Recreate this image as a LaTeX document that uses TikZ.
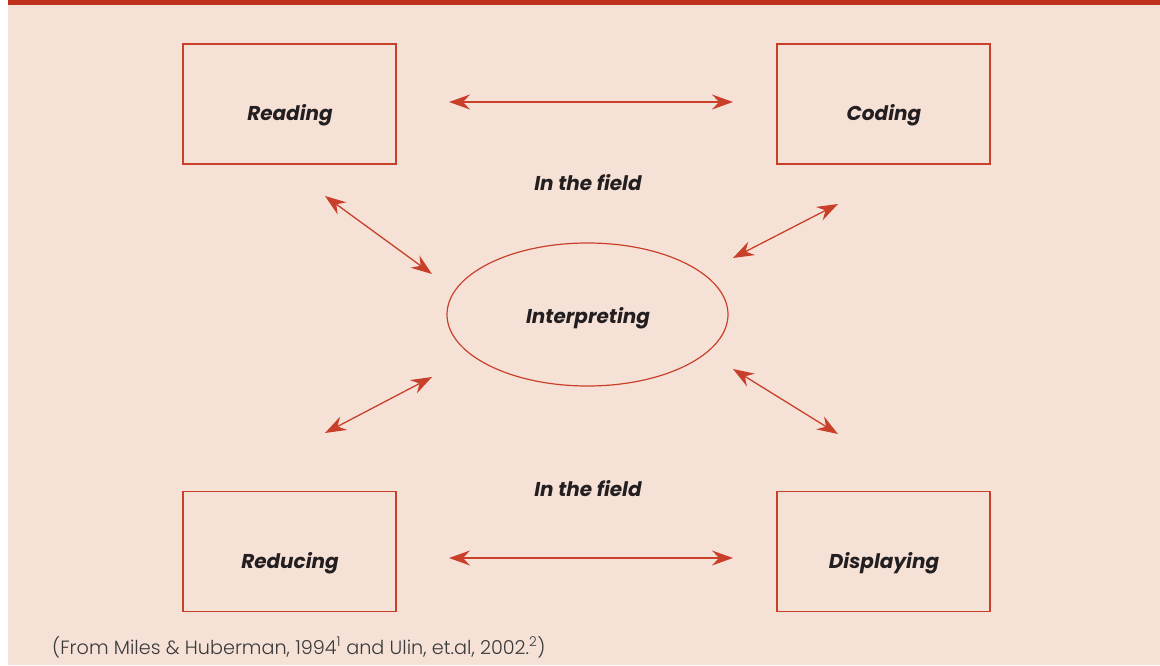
\documentclass[tikz,border=0pt]{standalone}
\usepackage{fontspec}
\setmainfont{Poppins}
\newfontfamily\capfont{Poppins Light}
\usetikzlibrary{arrows.meta,shapes.geometric}
\definecolor{bgpeach}{HTML}{F6E1D7}
\definecolor{barred}{HTML}{C0311C}
\definecolor{linered}{HTML}{C8402A}
\definecolor{inkdark}{HTML}{231F20}
\definecolor{capgray}{HTML}{3A3A3A}
\tikzset{
  boxnode/.style={draw=linered, line width=1.2pt, minimum width=213pt, minimum height=120pt, inner sep=0pt},
  ellnode/.style={draw=linered, line width=1.2pt, ellipse, minimum width=281pt, minimum height=143pt, inner sep=0pt},
  lbl/.style={anchor=base, inner sep=0pt, font=\fontsize{20}{22}\selectfont\bfseries\itshape, text=inkdark},
  dblarrow/.style={draw=linered, line width=1.3pt, {Stealth[length=21pt,width=15pt,inset=7pt]}-{Stealth[length=21pt,width=15pt,inset=7pt]}},
}
\begin{document}
\begin{tikzpicture}[x=1pt,y=-1pt]
\useasboundingbox (0,0) rectangle (1160,666);
\fill[white] (0,0) rectangle (1160,666);
\fill[bgpeach] (8,0) rectangle (1160,665);
\fill[barred] (8,0) rectangle (1160,5);
\node[boxnode] (reading) at (289.5,104) {};
\node[boxnode] (coding) at (883.5,104) {};
\node[boxnode] (reducing) at (289.5,551.5) {};
\node[boxnode] (displaying) at (883.5,551.5) {};
\node[ellnode] (interp) at (587.5,314.5) {};
\node[lbl] (readingtxt) at (290,121) {Reading};
\node[lbl] (codingtxt) at (884,121) {Coding};
\node[lbl] (reducingtxt) at (290,568) {Reducing};
\node[lbl] (displayingtxt) at (884,568) {Displaying};
\node[lbl] (interptxt) at (588,323) {Interpreting};
\node[lbl] (field1) at (588,190) {In the field};
\node[lbl] (field2) at (588,496) {In the field};
\coordinate (t1) at (449,102);
\coordinate (t2) at (733,102);
\coordinate (b1) at (449,558);
\coordinate (b2) at (733,558);
\coordinate (ul1) at (325,196);
\coordinate (ul2) at (432,274);
\coordinate (ur1) at (838,204);
\coordinate (ur2) at (733,258);
\coordinate (ll1) at (325,433);
\coordinate (ll2) at (432,377);
\coordinate (lr1) at (838,434);
\coordinate (lr2) at (733,369);
\draw[dblarrow] (t1) -- (t2);
\draw[dblarrow] (b1) -- (b2);
\draw[dblarrow] (ul1) -- (ul2);
\draw[dblarrow] (ur1) -- (ur2);
\draw[dblarrow] (ll1) -- (ll2);
\draw[dblarrow] (lr1) -- (lr2);
\node[anchor=base west, inner sep=0pt, text=capgray, font=\capfont\fontsize{19.2}{21}\selectfont] (caption) at (52,654) {(From Miles \& Huberman, 1994\textsuperscript{1} and Ulin, et.al, 2002.\textsuperscript{2})};
\end{tikzpicture}
\end{document}
